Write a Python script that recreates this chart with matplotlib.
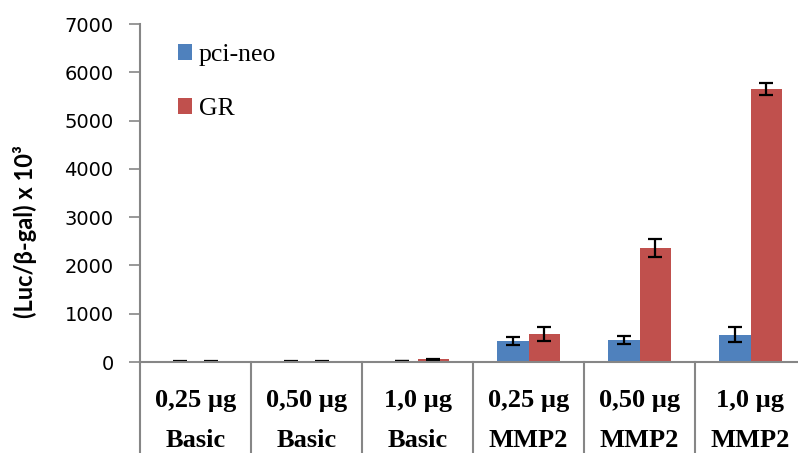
import matplotlib.pyplot as plt
import numpy as np

# luciferase activity per construct and amount of DNA
doses = ["0,25 µg", "0,50 µg", "1,0 µg", "0,25 µg", "0,50 µg", "1,0 µg"]
promoters = ["Basic", "Basic", "Basic", "MMP2", "MMP2", "MMP2"]
pcineo = [8, 8, 20, 435, 460, 560]
pcineo_err = [5, 5, 8, 90, 80, 155]
gr = [8, 8, 60, 585, 2360, 5650]
gr_err = [5, 5, 10, 150, 180, 120]

BLUE = "#4f81bd"
RED = "#c0504d"
GREY = "#868686"
W, H = 798, 453

fig = plt.figure(figsize=(W / 100, H / 100), dpi=100)
ax = fig.add_axes([140 / W, 1 - 362 / H, 666 / W, 338 / H])

x = np.arange(len(doses))
bw = 0.285
ekw = dict(elinewidth=1.6, capthick=1.6, ecolor="black")
ax.bar(x - bw / 2, pcineo, bw, color=BLUE, label="pci-neo",
       yerr=pcineo_err, capsize=5, error_kw=ekw)
ax.bar(x + bw / 2, gr, bw, color=RED, label="GR",
       yerr=gr_err, capsize=5, error_kw=ekw)

ax.set_xlim(-0.5, 5.5)
ax.set_ylim(0, 7000)
ax.set_yticks(range(0, 7001, 1000))
ax.tick_params(axis="y", direction="out", length=8, width=1.2, color=GREY,
               labelsize=14, pad=11)
ax.set_xticks([])

for side in ["top", "right"]:
    ax.spines[side].set_visible(False)
for side in ["left", "bottom"]:
    ax.spines[side].set_color(GREY)
    ax.spines[side].set_linewidth(1.5)

# category table below the axis
trans = ax.get_xaxis_transform()
bottom = -(H - 362) / 338
for b in np.arange(-0.5, 6, 1.0):
    ax.plot([b, b], [0, bottom], color=GREY, lw=1.5, transform=trans,
            clip_on=False)
for xi, d, p in zip(x, doses, promoters):
    ax.text(xi, -38 / 338, d, transform=trans, ha="center", va="center",
            fontsize=19, fontweight="bold", family="Liberation Serif")
    ax.text(xi, -(H - 362 - 1) / 338, p, transform=trans, ha="center",
            va="bottom", fontsize=19, fontweight="bold",
            family="Liberation Serif")

leg = ax.legend(loc="upper left", bbox_to_anchor=(38 / 666, 1 - 20 / 338),
                frameon=False, borderaxespad=0, borderpad=0,
                labelspacing=1.25, handlelength=0.55, handleheight=0.55,
                handletextpad=0.25,
                prop={"family": "Liberation Serif", "size": 18.5})

fig.text(25 / W, 1 - 232 / H, "(Luc/β-gal) x 10³", rotation=90,
         ha="center", va="center", fontsize=17, fontweight="bold",
         family="Lato")

fig.savefig("out.png", dpi=100)
